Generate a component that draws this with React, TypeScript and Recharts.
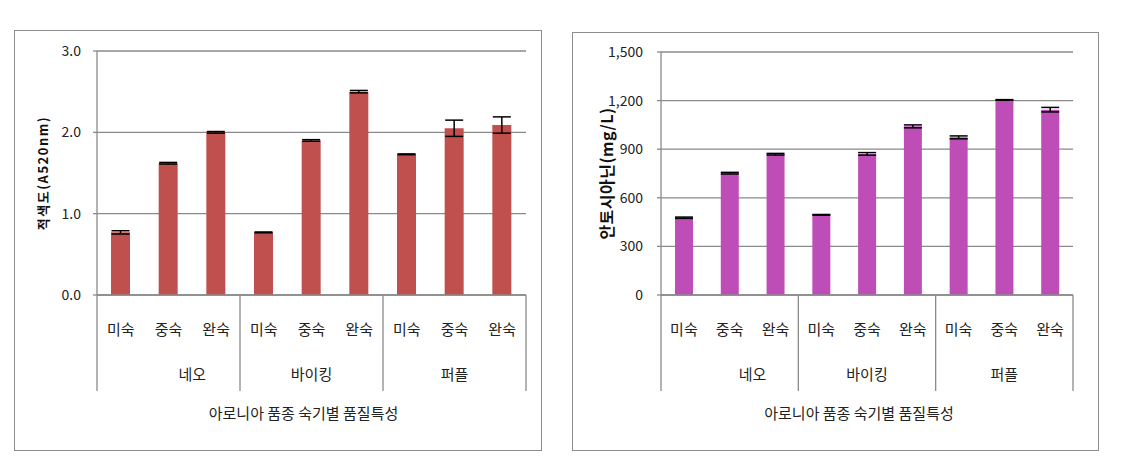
import { BarChart, Bar, XAxis, YAxis, CartesianGrid, ErrorBar, Cell } from "recharts";

const FONT = "'Noto Sans CJK KR', 'Noto Sans', sans-serif";

const categories = ["미숙", "중숙", "완숙", "미숙", "중숙", "완숙", "미숙", "중숙", "완숙"];
const groups = ["네오", "바이킹", "퍼플"];

const rednessValues = [0.77, 1.62, 2.0, 0.77, 1.9, 2.5, 1.73, 2.05, 2.09];
const rednessErrors = [0.02, 0.01, 0.01, 0.005, 0.01, 0.015, 0.005, 0.1, 0.1];
const rednessTicks = [0, 1, 2, 3];

const anthoValues = [477, 752, 869, 495, 871, 1041, 973, 1204, 1144];
const anthoErrors = [4, 5, 5, 2, 8, 9, 9, 2, 14];
const anthoTicks = [0, 300, 600, 900, 1200, 1500];

const xTitle = "아로니아 품종 숙기별 품질특성";

const rows = (values: number[], errors: number[]) =>
  categories.map((c, i) => ({
    key: `${groups[Math.floor(i / 3)]}-${c}`,
    cat: c,
    group: groups[Math.floor(i / 3)],
    value: values[i],
    err: errors[i],
  }));

const GRID = "#8a8a8a";

function GroupedTick(props: any) {
  const { x, y, index, band } = props;
  const half = band / 2;
  const gi = Math.floor(index / 3);
  return (
    <g>
      <text x={x} y={y + 33} textAnchor="middle" dominantBaseline="central"
        fontSize={15} fill="#222" fontFamily={FONT}>{categories[index]}</text>
      {index % 3 === 1 && (
        <text x={gi === 0 ? x + half : x} y={y + 78} textAnchor="middle" dominantBaseline="central"
          fontSize={15} fill="#222" fontFamily={FONT}>{groups[gi]}</text>
      )}
      {index % 3 === 0 && <line x1={x - half} x2={x - half} y1={y} y2={y + 96} stroke={GRID} strokeWidth={1.3} />}
      {index === categories.length - 1 && <line x1={x + half} x2={x + half} y1={y} y2={y + 96} stroke={GRID} strokeWidth={1.3} />}
    </g>
  );
}

interface PanelProps {
  values: number[];
  errors: number[];
  ticks: number[];
  format: (v: number) => string;
  yLabel: string;
  yLabelSize: number;
  yLabelSpacing: number;
  yLabelX: number;
  color: string;
  width: number;
  height: number;
  margin: { top: number; right: number; left: number; bottom: number };
  yWidth: number;
  tickMargin: number;
  barSize: number;
}

function Panel(p: PanelProps) {
  const data = rows(p.values, p.errors);
  const plotW = p.width - p.yWidth - p.margin.right;
  const band = plotW / categories.length;
  return (
    <BarChart width={p.width} height={p.height} data={data} margin={p.margin} barSize={p.barSize}>
      <CartesianGrid vertical={false} stroke={GRID} strokeWidth={1.3} />
      <XAxis
        dataKey="key"
        interval={0}
        height={156}
        tickLine={false}
        tickSize={0}
        tickMargin={0}
        axisLine={{ stroke: GRID, strokeWidth: 1.3 }}
        tick={(t: any) => <GroupedTick {...t} band={band} />}
        label={{
          content: ({ viewBox }: any) => (
            <text x={viewBox.x + viewBox.width / 2 - 8} y={viewBox.y + 117} textAnchor="middle"
              dominantBaseline="central" fontSize={15} fill="#222" fontFamily={FONT}>{xTitle}</text>
          ),
        }}
      />
      <YAxis
        width={p.yWidth}
        domain={[p.ticks[0], p.ticks[p.ticks.length - 1]]}
        ticks={p.ticks}
        interval={0}
        tickFormatter={p.format}
        tickSize={4}
        tickMargin={p.tickMargin}
        tickLine={{ stroke: GRID, strokeWidth: 1.3 }}
        axisLine={{ stroke: GRID, strokeWidth: 1.3 }}
        tick={{ fontSize: 14, fill: "#222", fontFamily: FONT }}
        label={{
          content: ({ viewBox }: any) => {
            const cx = viewBox.x + p.yLabelX;
            const cy = viewBox.y + viewBox.height / 2;
            return (
              <text x={cx} y={cy} transform={`rotate(-90 ${cx} ${cy})`} textAnchor="middle"
                dominantBaseline="central" fontSize={p.yLabelSize} fontWeight="bold"
                letterSpacing={p.yLabelSpacing} fill="#111" fontFamily={FONT}>{p.yLabel}</text>
            );
          },
        }}
      />
      <Bar dataKey="value" fill={p.color} isAnimationActive={false}>
        {data.map((_, i) => <Cell key={i} fill={p.color} />)}
        <ErrorBar dataKey="err" width={9} stroke="#000" strokeWidth={1.5} />
      </Bar>
    </BarChart>
  );
}

export default function App() {
  return (
    <div style={{ position: "absolute", left: 0, top: 0, width: 1143, height: 460, background: "#fff", fontFamily: FONT }}>
      <div style={{ position: "absolute", left: 14, top: 30 }}>
        <Panel
          values={rednessValues}
          errors={rednessErrors}
          ticks={rednessTicks}
          format={(v) => v.toFixed(1)}
          yLabel="적색도(A520nm)"
          yLabelSize={13}
          yLabelSpacing={1.5}
          yLabelX={28}
          color="#C0504D"
          width={528}
          height={421}
          margin={{ top: 21, right: 16, left: 0, bottom: 0 }}
          yWidth={83}
          tickMargin={12}
          barSize={19}
        />
      </div>
      <div style={{ position: "absolute", left: 14, top: 30, width: 528, height: 421, border: "1.5px solid #8c8c8c", boxSizing: "border-box", pointerEvents: "none" }} />

      <div style={{ position: "absolute", left: 572, top: 32 }}>
        <Panel
          values={anthoValues}
          errors={anthoErrors}
          ticks={anthoTicks}
          format={(v) => v.toLocaleString("en-US")}
          yLabel="안토시아닌(mg/L)"
          yLabelSize={16}
          yLabelSpacing={0.5}
          yLabelX={34}
          color="#BF4DB8"
          width={527}
          height={419}
          margin={{ top: 20, right: 26, left: 0, bottom: 0 }}
          yWidth={89}
          tickMargin={14}
          barSize={18}
        />
      </div>
      <div style={{ position: "absolute", left: 572, top: 32, width: 527, height: 419, border: "1.5px solid #8c8c8c", boxSizing: "border-box", pointerEvents: "none" }} />
    </div>
  );
}
